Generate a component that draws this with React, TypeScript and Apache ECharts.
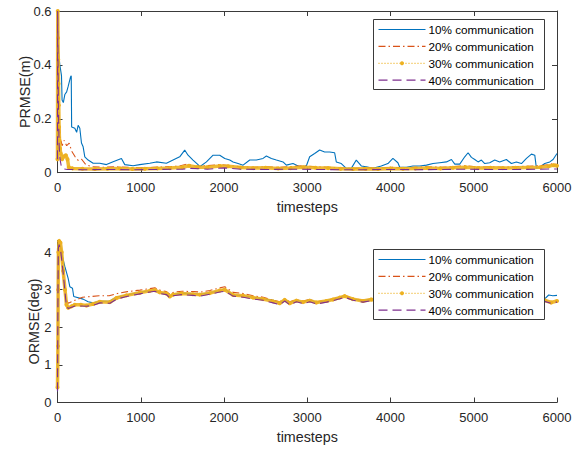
import React, { useEffect, useRef } from "react";
import * as echarts from "echarts";

// ---------- data ----------
const seriesNames = ["10% communication", "20% communication", "30% communication", "40% communication"];
const xTickValues = [0, 1000, 2000, 3000, 4000, 5000, 6000];
const prmseTicks = [0, 0.2, 0.4, 0.6];
const ormseTicks = [0, 1, 2, 3, 4];

// PRMSE(m) vs timesteps
const prmse10: [number, number][] = [
  [0, 0.05], [5, 0.6], [12, 0.45], [28, 0.40], [48, 0.36], [55, 0.27], [70, 0.26], [88, 0.29], [110, 0.30], [128, 0.32],
  [156, 0.355], [165, 0.36], [170, 0.17], [208, 0.165], [230, 0.15], [248, 0.176], [268, 0.165], [288, 0.11], [308, 0.096],
  [328, 0.059], [368, 0.047], [428, 0.035], [508, 0.035], [588, 0.03], [668, 0.041], [768, 0.053], [808, 0.03], [908, 0.026],
  [988, 0.03], [1108, 0.035], [1188, 0.04], [1308, 0.035], [1388, 0.047], [1468, 0.059], [1528, 0.084], [1568, 0.065],
  [1628, 0.047], [1688, 0.03], [1709, 0.022], [1789, 0.04], [1869, 0.065], [1949, 0.065], [2009, 0.053], [2069, 0.047],
  [2109, 0.04], [2169, 0.034], [2229, 0.028], [2309, 0.047], [2389, 0.047], [2469, 0.053], [2509, 0.062], [2569, 0.053],
  [2629, 0.047], [2709, 0.04], [2749, 0.028], [2829, 0.034], [2909, 0.022], [2989, 0.025], [3029, 0.059], [3089, 0.071],
  [3149, 0.084], [3209, 0.077], [3269, 0.077], [3329, 0.074], [3349, 0.04], [3409, 0.034], [3469, 0.016], [3529, 0.016],
  [3589, 0.047], [3649, 0.025], [3709, 0.022], [3789, 0.016], [3889, 0.025], [3969, 0.034], [4029, 0.053], [4089, 0.037],
  [4111, 0.02], [4191, 0.02], [4271, 0.025], [4351, 0.025], [4432, 0.028], [4511, 0.034], [4591, 0.037], [4672, 0.04],
  [4732, 0.049], [4772, 0.032], [4832, 0.032], [4892, 0.059], [4932, 0.074], [4972, 0.057], [5012, 0.049], [5052, 0.04],
  [5092, 0.047], [5132, 0.034], [5192, 0.037], [5252, 0.047], [5312, 0.04], [5392, 0.049], [5452, 0.034], [5512, 0.04],
  [5573, 0.034], [5633, 0.053], [5693, 0.069], [5733, 0.065], [5753, 0.016], [5793, 0.02], [5853, 0.034], [5913, 0.04],
  [5953, 0.049], [6000, 0.071],
];
const prmse20: [number, number][] = [
  [0, 0.06], [4, 0.6], [10, 0.35], [20, 0.2], [35, 0.13], [55, 0.1], [80, 0.12], [110, 0.1], [140, 0.11], [170, 0.08],
  [210, 0.06], [250, 0.045], [290, 0.05], [340, 0.03], [420, 0.022], [550, 0.02], [700, 0.022], [850, 0.02], [1000, 0.018],
  [1150, 0.02], [1300, 0.022], [1450, 0.024], [1560, 0.032], [1660, 0.024], [1800, 0.026], [1950, 0.03], [2050, 0.027],
  [2200, 0.022], [2350, 0.02], [2500, 0.022], [2650, 0.02], [2800, 0.022], [2950, 0.026], [3100, 0.022], [3250, 0.02],
  [3400, 0.018], [3550, 0.016], [3700, 0.018], [3850, 0.017], [4000, 0.02], [4150, 0.018], [4300, 0.02], [4450, 0.022],
  [4600, 0.02], [4750, 0.022], [4900, 0.026], [5050, 0.021], [5200, 0.022], [5350, 0.02], [5500, 0.022], [5650, 0.024],
  [5800, 0.026], [5900, 0.03], [5960, 0.034], [6000, 0.03],
];
const prmse30: [number, number][] = [
  [0, 0.05], [3, 0.6], [6, 0.5], [9, 0.42], [12, 0.33], [15, 0.25], [19, 0.17], [24, 0.12], [30, 0.09], [40, 0.07],
  [55, 0.05], [75, 0.06], [100, 0.065], [120, 0.05], [135, 0.02], [180, 0.016], [300, 0.015], [450, 0.014], [600, 0.015],
  [750, 0.016], [900, 0.014], [1050, 0.015], [1200, 0.016], [1350, 0.017], [1500, 0.02], [1580, 0.026], [1680, 0.02],
  [1800, 0.02], [1950, 0.025], [2050, 0.024], [2200, 0.019], [2350, 0.017], [2500, 0.018], [2650, 0.016], [2800, 0.017],
  [2950, 0.02], [3100, 0.018], [3250, 0.017], [3400, 0.015], [3550, 0.014], [3700, 0.015], [3850, 0.014], [4000, 0.016],
  [4150, 0.015], [4300, 0.016], [4450, 0.017], [4600, 0.016], [4750, 0.018], [4900, 0.02], [5050, 0.017], [5200, 0.018],
  [5350, 0.017], [5500, 0.018], [5650, 0.019], [5800, 0.02], [5900, 0.024], [5960, 0.028], [6000, 0.026],
];
const prmse40: [number, number][] = [
  [0, 0.05], [2, 0.6], [5, 0.45], [9, 0.3], [14, 0.18], [20, 0.1], [30, 0.05], [45, 0.025], [70, 0.014], [120, 0.012],
  [300, 0.011], [600, 0.012], [900, 0.011], [1200, 0.012], [1500, 0.013], [1600, 0.016], [1800, 0.013], [2000, 0.018],
  [2200, 0.013], [2500, 0.012], [2800, 0.013], [3100, 0.012], [3400, 0.011], [3700, 0.011], [4000, 0.012], [4300, 0.011],
  [4600, 0.012], [4900, 0.013], [5200, 0.012], [5500, 0.012], [5800, 0.013], [6000, 0.014],
];

// ORMSE(deg) vs timesteps
const ormse10: [number, number][] = [
  [0, 0.3], [10, 4.2], [30, 4.28], [48, 3.98], [88, 3.62], [128, 3.3], [148, 3.08], [180, 3.04], [195, 2.82], [308, 2.75],
  [368, 2.68], [428, 2.65], [508, 2.69], [628, 2.7], [708, 2.8], [828, 2.86], [988, 2.93], [1108, 2.98], [1168, 3.0],
  [1228, 2.93], [1308, 2.9], [1348, 2.82], [1388, 2.88], [1488, 2.91], [1628, 2.9], [1709, 2.88], [1829, 2.92], [1949, 2.98],
  [2009, 3.02], [2109, 2.86], [2229, 2.84], [2349, 2.8], [2469, 2.76], [2589, 2.72], [2669, 2.65], [2729, 2.74], [2789, 2.66],
  [2869, 2.72], [2949, 2.67], [3029, 2.74], [3109, 2.66], [3229, 2.71], [3309, 2.75], [3389, 2.8], [3449, 2.84], [3549, 2.75],
  [3669, 2.71], [3769, 2.75], [3900, 2.72], [4100, 2.7], [4300, 2.74], [4500, 2.7], [4700, 2.73], [4900, 2.7], [5100, 2.72],
  [5300, 2.7], [5500, 2.72], [5700, 2.7], [5850, 2.75], [5900, 2.86], [5950, 2.84], [6000, 2.85],
];
const ormse20: [number, number][] = [
  [0, 0.4], [8, 4.1], [22, 4.25], [45, 4.05], [68, 3.5], [100, 2.75], [130, 2.64], [210, 2.72], [300, 2.8], [400, 2.82],
  [500, 2.84], [620, 2.84], [720, 2.9], [840, 2.95], [990, 2.99], [1110, 3.03], [1170, 3.05], [1240, 2.98], [1310, 2.95],
  [1350, 2.88], [1400, 2.94], [1500, 2.96], [1640, 2.95], [1720, 2.94], [1830, 2.98], [1950, 3.05], [2010, 3.08],
  [2110, 2.93], [2230, 2.9], [2350, 2.84], [2470, 2.8], [2590, 2.72], [2670, 2.68], [2730, 2.76], [2790, 2.68], [2870, 2.74],
  [2950, 2.7], [3030, 2.74], [3110, 2.68], [3230, 2.72], [3310, 2.76], [3390, 2.81], [3450, 2.85], [3550, 2.77], [3670, 2.72],
  [3770, 2.76], [3900, 2.73], [4100, 2.71], [4300, 2.74], [4500, 2.71], [4700, 2.73], [4900, 2.71], [5100, 2.72], [5300, 2.71],
  [5500, 2.72], [5700, 2.7], [5850, 2.72], [5930, 2.68], [6000, 2.7],
];
const ormse30: [number, number][] = [
  [0, 0.4], [5, 1.5], [8, 3.0], [11, 4.0], [20, 4.3], [35, 4.25], [50, 4.0], [68, 3.5], [90, 3.0], [108, 2.6], [128, 2.52],
  [170, 2.56], [208, 2.6], [280, 2.6], [348, 2.58], [428, 2.62], [508, 2.68], [628, 2.67], [708, 2.78], [828, 2.85],
  [988, 2.92], [1108, 2.97], [1168, 2.99], [1228, 2.93], [1308, 2.9], [1348, 2.82], [1388, 2.87], [1488, 2.9], [1628, 2.88],
  [1709, 2.87], [1829, 2.91], [1949, 2.98], [2009, 3.0], [2109, 2.86], [2229, 2.84], [2349, 2.79], [2469, 2.75], [2589, 2.69],
  [2669, 2.64], [2729, 2.73], [2789, 2.64], [2869, 2.71], [2949, 2.67], [3029, 2.71], [3109, 2.66], [3229, 2.7], [3309, 2.74],
  [3389, 2.79], [3449, 2.83], [3549, 2.75], [3669, 2.7], [3769, 2.74], [3900, 2.71], [4100, 2.69], [4300, 2.73], [4500, 2.69],
  [4700, 2.72], [4900, 2.69], [5100, 2.71], [5300, 2.69], [5500, 2.71], [5700, 2.69], [5850, 2.72], [5930, 2.66], [6000, 2.7],
];
const ormse40: [number, number][] = [
  [0, 0.3], [6, 3.0], [10, 4.1], [20, 4.2], [40, 4.0], [68, 3.45], [105, 2.6], [128, 2.5], [210, 2.57], [350, 2.56],
  [430, 2.59], [510, 2.65], [630, 2.64], [710, 2.75], [830, 2.82], [990, 2.89], [1110, 2.94], [1170, 2.96], [1230, 2.9],
  [1310, 2.87], [1350, 2.78], [1390, 2.84], [1490, 2.87], [1630, 2.85], [1710, 2.83], [1830, 2.88], [1950, 2.94],
  [2010, 2.96], [2110, 2.83], [2230, 2.8], [2350, 2.75], [2470, 2.72], [2590, 2.65], [2670, 2.6], [2730, 2.7], [2790, 2.6],
  [2870, 2.68], [2950, 2.63], [3030, 2.68], [3110, 2.62], [3230, 2.67], [3310, 2.71], [3390, 2.76], [3450, 2.8], [3550, 2.72],
  [3670, 2.67], [3770, 2.71], [3900, 2.68], [4100, 2.66], [4300, 2.7], [4500, 2.66], [4700, 2.69], [4900, 2.66], [5100, 2.68],
  [5300, 2.66], [5500, 2.68], [5700, 2.66], [5850, 2.69], [5930, 2.64], [6000, 2.67],
];

// ---------- styles ----------
const COLORS = ["#0072BD", "#D95319", "#EDB120", "#7E2F8E"];
const FONT = "'Liberation Sans', Arial, Helvetica, sans-serif";
const AXIS_COLOR = "#3a3a3a";
const TEXT_COLOR = "#262626";

function lineSeries(idx: number, data: [number, number][], axis: number) {
  const base: any = {
    type: "line",
    name: seriesNames[idx],
    xAxisIndex: axis === 0 ? 0 : 2,
    yAxisIndex: axis === 0 ? 0 : 2,
    data,
    color: COLORS[idx],
    showSymbol: false,
    symbol: "none",
    z: 2 + idx,
    lineStyle: { color: COLORS[idx], width: 1.1 },
  };
  if (idx === 1) base.lineStyle.type = [7, 3, 1.5, 3];
  if (idx === 3) base.lineStyle.type = [9, 5];
  if (idx === 2) {
    base.lineStyle = { color: COLORS[2], width: 3.5, opacity: 0.9 };
    base.symbol = "circle";
    base.symbolSize = 4;
    base.showSymbol = true;
    base.showAllSymbol = true;
    base.itemStyle = { color: COLORS[2] };
  }
  return base;
}

function legendGroup(x: number, y: number) {
  const rowH = 16.9;
  const Z = 100;
  const children: any[] = [
    {
      type: "rect",
      z: Z,
      shape: { x: 0, y: 0, width: 171, height: 70 },
      style: { fill: "#ffffff", stroke: AXIS_COLOR, lineWidth: 1 },
    },
  ];
  seriesNames.forEach((name, i) => {
    const cy = 10 + i * rowH;
    const ls: any = { stroke: COLORS[i], lineWidth: 1.2 };
    if (i === 1) ls.lineDash = [7, 3, 1.5, 3];
    if (i === 2) ls.lineDash = [1, 2];
    if (i === 3) ls.lineDash = [9, 5];
    children.push({ type: "line", z: Z + 1, shape: { x1: 5, y1: cy, x2: 52, y2: cy }, style: ls });
    if (i === 2) {
      children.push({ type: "circle", z: Z + 2, shape: { cx: 28.5, cy, r: 2 }, style: { fill: COLORS[2] } });
    }
    children.push({
      type: "text",
      z: Z + 1,
      x: 55,
      y: cy,
      style: {
        text: name,
        fill: "#000",
        font: `11.7px ${FONT}`,
        textVerticalAlign: "middle",
        textAlign: "left",
      },
    });
  });
  return { type: "group", x, y, z: Z, children };
}

function xAxisCfg(grid: number, main: boolean, position: "bottom" | "top") {
  return {
    type: "value",
    gridIndex: grid,
    min: 0,
    max: 6000,
    interval: 1000,
    position,
    axisLine: { show: true, onZero: false, lineStyle: { color: AXIS_COLOR, width: 1 } },
    axisTick: { show: true, inside: true, length: 5, lineStyle: { color: AXIS_COLOR } },
    axisLabel: {
      show: main,
      color: TEXT_COLOR,
      fontSize: 13,
      fontFamily: FONT,
      margin: 8,
      customValues: xTickValues,
      formatter: (v: number) => String(v),
    },
    splitLine: { show: false },
    name: main ? "timesteps" : "",
    nameLocation: "middle",
    nameGap: 27,
    nameMoveOverlap: false,
    nameTextStyle: { color: TEXT_COLOR, fontSize: 14.3, fontFamily: FONT },
  };
}

const option: any = {
  animation: false,
  backgroundColor: "#ffffff",
  grid: [
    { left: 57.5, top: 11, width: 499.5, height: 161.7 },
    { left: 57.5, top: 240.5, width: 499.5, height: 162 },
  ],
  xAxis: [xAxisCfg(0, true, "bottom"), xAxisCfg(0, false, "top"), xAxisCfg(1, true, "bottom")],
  yAxis: [
    {
      type: "value",
      gridIndex: 0,
      min: 0,
      max: 0.6,
      interval: 0.2,
      position: "left",
      axisLine: { show: true, onZero: false, lineStyle: { color: AXIS_COLOR, width: 1 } },
      axisTick: { show: true, inside: true, length: 5, lineStyle: { color: AXIS_COLOR } },
      axisLabel: {
        color: TEXT_COLOR,
        fontSize: 13,
        fontFamily: FONT,
        margin: 6,
        customValues: prmseTicks,
        formatter: (v: number) => String(Math.round(v * 10) / 10),
      },
      splitLine: { show: false },
      name: "PRMSE(m)",
      nameLocation: "middle",
      nameGap: 26,
      nameRotate: 90,
      nameMoveOverlap: false,
      nameTextStyle: { color: TEXT_COLOR, fontSize: 14.3, fontFamily: FONT },
    },
    {
      type: "value",
      gridIndex: 0,
      min: 0,
      max: 0.6,
      interval: 0.2,
      position: "right",
      axisLine: { show: true, onZero: false, lineStyle: { color: AXIS_COLOR, width: 1 } },
      axisTick: { show: true, inside: true, length: 5, lineStyle: { color: AXIS_COLOR } },
      axisLabel: { show: false },
      splitLine: { show: false },
    },
    {
      type: "value",
      gridIndex: 1,
      min: 0,
      max: 4.31,
      position: "left",
      axisLine: { show: true, onZero: false, lineStyle: { color: AXIS_COLOR, width: 1 } },
      axisTick: { show: true, inside: true, length: 5, lineStyle: { color: AXIS_COLOR }, customValues: ormseTicks },
      axisLabel: {
        color: TEXT_COLOR,
        fontSize: 13,
        fontFamily: FONT,
        margin: 6,
        customValues: ormseTicks,
      },
      splitLine: { show: false },
      name: "ORMSE(deg)",
      nameLocation: "middle",
      nameGap: 16.5,
      nameRotate: 90,
      nameMoveOverlap: false,
      nameTextStyle: { color: TEXT_COLOR, fontSize: 14.3, fontFamily: FONT },
    },
  ],
  series: [
    lineSeries(0, prmse10, 0),
    lineSeries(1, prmse20, 0),
    lineSeries(2, prmse30, 0),
    lineSeries(3, prmse40, 0),
    lineSeries(0, ormse10, 1),
    lineSeries(1, ormse20, 1),
    lineSeries(2, ormse30, 1),
    lineSeries(3, ormse40, 1),
  ],
  graphic: { elements: [legendGroup(373.5, 19.5), legendGroup(373.5, 249.5)] },
};

export default function App() {
  const ref = useRef<HTMLDivElement>(null);
  useEffect(() => {
    if (!ref.current) return;
    const chart = echarts.init(ref.current, null, { renderer: "svg" });
    chart.setOption(option);
    return () => chart.dispose();
  }, []);
  return (
    <div
      ref={ref}
      style={{ position: "fixed", left: 0, top: 0, width: 584, height: 449, background: "#ffffff" }}
    />
  );
}
